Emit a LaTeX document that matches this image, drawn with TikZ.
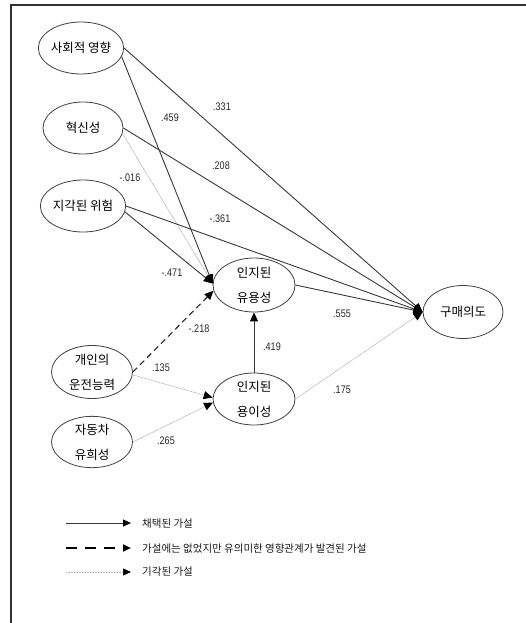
\documentclass[tikz,border=0pt]{standalone}
\usepackage{fontspec}
\usepackage{graphicx}
\setmainfont{Liberation Sans}
\newfontfamily\kr{Noto Sans CJK KR}
\usetikzlibrary{shapes.geometric,arrows.meta}

% narrow figures for path coefficients
\newcommand\coef[1]{\scalebox{0.82}[1]{#1}}

\begin{document}
\begin{tikzpicture}[x=1pt,y=-1pt,
  latent/.style={ellipse,draw=black!75,line width=0.8pt,inner sep=0pt,align=center,
    font=\kr\fontsize{12.5}{25}\selectfont},
  tip/.style={-{Triangle[length=9pt,width=8pt,color=black,fill=black]}},
  smalltip/.style={-{Triangle[length=8pt,width=7pt,color=black,fill=black]}},
  accepted/.style={draw=black!78,line width=0.9pt},
  found/.style={draw=black!85,line width=1.1pt,dash pattern=on 6pt off 4pt},
  rejected/.style={draw=black!30,line width=0.7pt,dash pattern=on 1pt off 0.6pt},
  coefl/.style={font=\fontsize{11}{11}\selectfont,text=black!85,inner sep=0pt},
  legtext/.style={font=\kr\fontsize{10.5}{12}\selectfont,text=black!90,anchor=west,inner sep=0pt}
]
\useasboundingbox (0,0) rectangle (526,623);

% frame (top and left edges only)
\draw[black!80,line width=1.6pt] (526,5) -- (11,5) -- (11,623);

% latent variables
\node[latent,minimum width=78pt,minimum height=52pt] (soc)  at (81,48)  {사회적 영향};
\node[latent,minimum width=80pt,minimum height=52pt] (inn)  at (83,128) {혁신성};
\node[latent,minimum width=80pt,minimum height=52pt] (risk) at (83,206) {지각된 위험};
\node[latent,minimum width=81pt,minimum height=53pt] (drv)  at (92,372) {개인의\\운전능력};
\node[latent,minimum width=81pt,minimum height=50pt] (fun)  at (92,442) {자동차\\유희성};
\node[latent,minimum width=82pt,minimum height=54pt] (use)  at (254,285) {인지된\\유용성};
\node[latent,minimum width=82pt,minimum height=52pt] (ease) at (254,399) {인지된\\용이성};
\node[latent,minimum width=80pt,minimum height=53pt] (buy)  at (463,312) {구매의도};

% paths
\draw[accepted,tip] (soc.east)  -- (buy.west);
\draw[accepted,tip] (soc.-12)   -- (use.178);
\draw[accepted,tip] (inn.east)  -- (buy.west);
\draw[rejected,tip] (inn.-8)    -- (use.178);
\draw[accepted,tip] (risk.east) -- (buy.west);
\draw[accepted,tip] (risk.-8)   -- (use.178);
\draw[found,tip]    (drv.east)  -- (use.188);
\draw[rejected,tip] (drv.-4)    -- (ease.178);
\draw[rejected,tip] (fun.east)  -- (ease.185);
\draw[accepted,tip] (ease.north) -- (use.south);
\draw[accepted,tip] (use.east)  -- (buy.west);
\draw[rejected,tip] (ease.east) -- (buy.west);

% coefficients
\node[coefl] (k1)  at (222,107) {\coef{.331}};
\node[coefl] (k2)  at (170,118) {\coef{.459}};
\node[coefl] (k3)  at (221,166) {\coef{.208}};
\node[coefl] (k4)  at (130,178) {\coef{-.016}};
\node[coefl] (k5)  at (220,219) {\coef{-.361}};
\node[coefl] (k6)  at (172,273) {\coef{-.471}};
\node[coefl] (k7)  at (199,329) {\coef{-.218}};
\node[coefl] (k8)  at (161,368) {\coef{.135}};
\node[coefl] (k9)  at (166,441) {\coef{.265}};
\node[coefl] (k10) at (272,347) {\coef{.419}};
\node[coefl] (k11) at (342,314) {\coef{.555}};
\node[coefl] (k12) at (342,390) {\coef{.175}};

% legend
\coordinate (la1) at (66,523); \coordinate (lb1) at (131,523);
\coordinate (la2) at (66,548); \coordinate (lb2) at (131,548);
\coordinate (la3) at (66,572); \coordinate (lb3) at (131,572);
\draw[accepted,smalltip] (la1) -- (lb1);
\draw[draw=black,line width=2.4pt,dash pattern=on 11pt off 8pt,smalltip] (la2) -- (lb2);
\draw[rejected,smalltip] (la3) -- (lb3);
\node[legtext] (t1) at (142,524) {채택된 가설};
\node[legtext] (t2) at (142,549) {가설에는 없었지만 유의미한 영향관계가 발견된 가설};
\node[legtext] (t3) at (142,572) {기각된 가설};
\end{tikzpicture}
\end{document}
